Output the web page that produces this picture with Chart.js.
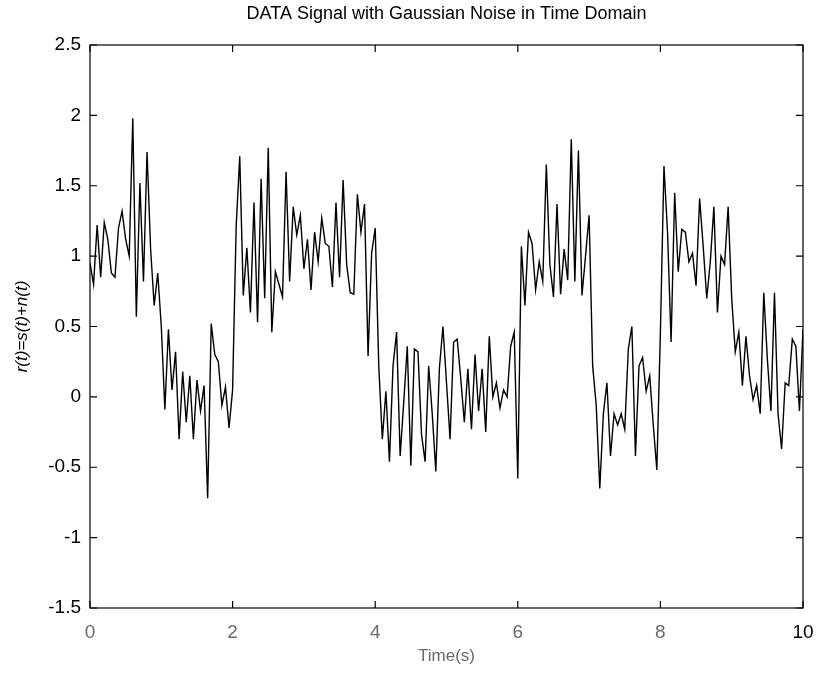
<!DOCTYPE html>
<html>
<head>
<meta charset="utf-8">
<script src="https://cdn.jsdelivr.net/npm/chart.js@4.4.1/dist/chart.umd.min.js"></script>
<style>
  html, body { margin: 0; padding: 0; background: #fff; }
  #wrap { width: 819px; height: 673px; }
</style>
</head>
<body>
<div id="wrap"><canvas id="signalChart"></canvas></div>
<script>
// sample spacing of the received signal (seconds)
var sampleStep = 0.05;

// r(t), one row per second
var sec0 = [0.95, 0.80, 1.22, 0.85, 1.24, 1.12, 0.88, 0.85, 1.20, 1.32, 1.12, 1.00, 1.98, 0.57, 1.52, 0.82, 1.74, 1.05, 0.65, 0.88];
var sec1 = [0.50, -0.09, 0.48, 0.05, 0.32, -0.30, 0.18, -0.18, 0.15, -0.30, 0.12, -0.10, 0.08, -0.72, 0.52, 0.30, 0.25, -0.06, 0.07, -0.22];
var sec2 = [0.05, 1.21, 1.71, 0.72, 1.06, 0.60, 1.38, 0.53, 1.55, 0.70, 1.77, 0.46, 0.89, 0.80, 0.71, 1.60, 0.82, 1.35, 1.15, 1.29];
var sec3 = [0.91, 1.12, 0.76, 1.17, 0.96, 1.27, 1.09, 1.07, 0.78, 1.38, 0.85, 1.54, 0.94, 0.74, 0.73, 1.44, 1.17, 1.37, 0.29, 1.02];
var sec4 = [1.20, 0.22, -0.30, 0.04, -0.46, 0.22, 0.46, -0.42, -0.04, 0.36, -0.49, 0.34, 0.32, -0.27, -0.46, 0.22, -0.12, -0.53, 0.20, 0.50];
var sec5 = [0.10, -0.30, 0.39, 0.41, 0.13, -0.18, 0.20, -0.23, 0.30, -0.10, 0.20, -0.25, 0.43, 0.00, 0.10, -0.08, 0.05, 0.00, 0.36, 0.46];
var sec6 = [-0.58, 1.07, 0.65, 1.17, 1.09, 0.76, 0.96, 0.82, 1.65, 0.94, 0.71, 1.37, 0.73, 1.05, 0.83, 1.83, 0.82, 1.75, 0.72, 1.00];
var sec7 = [1.29, 0.22, -0.06, -0.65, -0.12, 0.10, -0.42, -0.12, -0.20, -0.12, -0.23, 0.34, 0.50, -0.42, 0.22, 0.28, 0.04, 0.15, -0.20, -0.52];
var sec8 = [0.46, 1.64, 1.17, 0.39, 1.45, 0.89, 1.19, 1.17, 0.96, 1.02, 0.79, 1.41, 1.07, 0.70, 0.96, 1.35, 0.60, 1.00, 0.94, 1.35];
var sec9 = [0.70, 0.32, 0.46, 0.08, 0.43, 0.15, -0.02, 0.08, -0.12, 0.74, 0.27, -0.10, 0.74, -0.12, -0.37, 0.10, 0.08, 0.41, 0.36, -0.10];
var lastSample = [0.48];

var signal = [].concat(sec0, sec1, sec2, sec3, sec4, sec5, sec6, sec7, sec8, sec9, lastSample);

var chartTitle = 'DATA Signal with Gaussian Noise in Time Domain';
var xTicks = [0, 2, 4, 6, 8, 10];
var yTicks = [-1.5, -1, -0.5, 0, 0.5, 1, 1.5, 2, 2.5];

var points = signal.map(function (v, i) {
	return { x: Math.round(i * sampleStep * 100) / 100, y: v };
});

// matlab style box with inward ticks, title centred over the axes
var boxPlugin = {
	id: 'boxTicks',
	afterDatasetsDraw: function (chart) {
		var ctx = chart.ctx;
		var a = chart.chartArea;
		var xs = chart.scales.x, ys = chart.scales.y;
		var len = 7;
		ctx.save();
		ctx.strokeStyle = '#000';
		ctx.lineWidth = 1.2;
		ctx.strokeRect(a.left, a.top, a.right - a.left, a.bottom - a.top);
		ctx.beginPath();
		xTicks.forEach(function (t) {
			var px = xs.getPixelForValue(t);
			ctx.moveTo(px, a.bottom); ctx.lineTo(px, a.bottom - len);
			ctx.moveTo(px, a.top); ctx.lineTo(px, a.top + len);
		});
		yTicks.forEach(function (t) {
			var py = ys.getPixelForValue(t);
			ctx.moveTo(a.left, py); ctx.lineTo(a.left + len, py);
			ctx.moveTo(a.right, py); ctx.lineTo(a.right - len, py);
		});
		ctx.stroke();

		ctx.fillStyle = '#000';
		ctx.font = '18px "Liberation Sans"';
		ctx.textAlign = 'center';
		ctx.textBaseline = 'middle';
		ctx.fillText(chartTitle, (a.left + a.right) / 2, a.top - 31);
		ctx.restore();
	}
};

var ctx = document.getElementById('signalChart').getContext('2d');
var signalChart = new Chart(ctx, {
	type: 'line',
	data: {
		datasets: [{
			label: 'r(t)',
			data: points,
			borderColor: '#000',
			borderWidth: 1.4,
			pointRadius: 0,
			tension: 0,
			fill: false
		}]
	},
	options: {
		responsive: true,
		maintainAspectRatio: false,
		animation: false,
		layout: { padding: { left: 0, right: 16, top: 45, bottom: 0 } },
		plugins: {
			legend: { display: false },
			tooltip: { enabled: false },
			title: { display: false }
		},
		scales: {
			x: {
				type: 'linear',
				min: 0,
				max: 10,
				afterBuildTicks: function (scale) {
					scale.ticks = xTicks.map(function (v) { return { value: v }; });
				},
				afterFit: function (scale) { scale.height = 65; },
				grid: { display: false },
				border: { display: false },
				ticks: {
					padding: 5,
					color: function (c) { return c.tick && c.tick.value === 10 ? '#000' : '#6a6a6a'; },
					font: { family: 'Liberation Sans', size: 19 }
				},
				title: {
					display: true,
					text: 'Time(s)',
					color: '#6a6a6a',
					font: { family: 'Liberation Sans', size: 17 },
					padding: { top: 0, bottom: 6 }
				}
			},
			y: {
				min: -1.5,
				max: 2.5,
				afterBuildTicks: function (scale) {
					scale.ticks = yTicks.map(function (v) { return { value: v }; });
				},
				afterFit: function (scale) { scale.width = 90; },
				grid: { display: false },
				border: { display: false },
				ticks: {
					padding: 1,
					color: '#000',
					font: { family: 'Liberation Sans', size: 19 },
					callback: function (v) { return String(v); }
				},
				title: {
					display: true,
					text: 'r(t)=s(t)+n(t)',
					color: '#000',
					font: { family: 'Liberation Sans', size: 17, style: 'italic' },
					padding: { top: 12, bottom: 0 }
				}
			}
		}
	},
	plugins: [boxPlugin]
});
</script>
</body>
</html>
